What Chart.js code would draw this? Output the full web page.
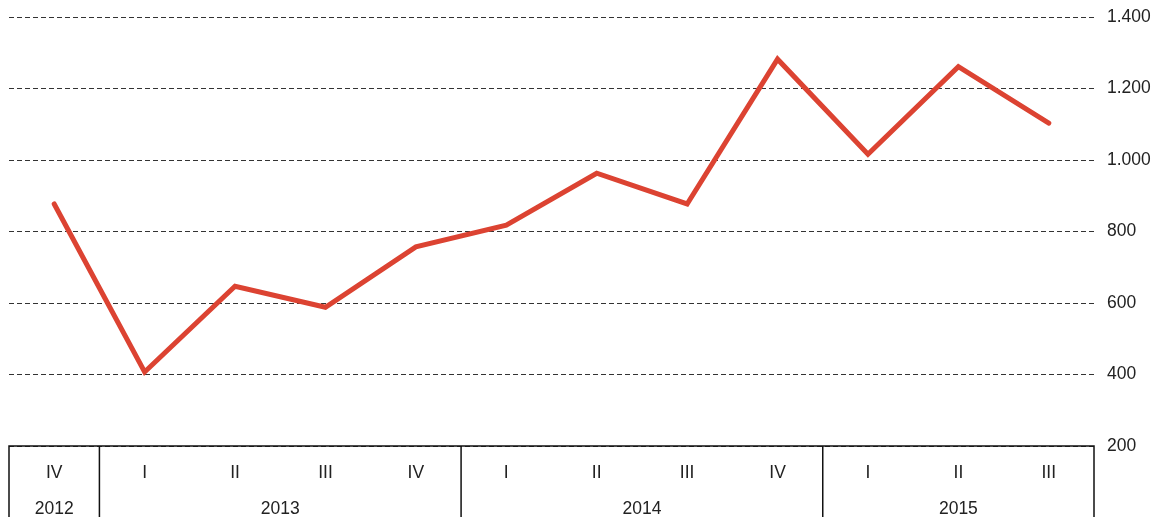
<!DOCTYPE html>
<html>
<head>
<meta charset="utf-8">
<script src="https://cdn.jsdelivr.net/npm/chart.js@4"></script>
<style>
  body { margin: 0; background: #fff; }
  #wrap { width: 1161px; height: 517px; }
</style>
</head>
<body>
<div id="wrap"><canvas id="chart"></canvas></div>
<script>
// trimestri e valori
const quarters = ['IV', 'I', 'II', 'III', 'IV', 'I', 'II', 'III', 'IV', 'I', 'II', 'III'];
const years = ['2012', '2013', '2014', '2015'];
const quartersPerYear = [1, 4, 4, 3];
const values = [877, 407, 647, 588, 757, 818, 963, 877, 1282, 1016, 1261, 1103];
const yTicks = [200, 400, 600, 800, 1000, 1200, 1400];

const fontFamily = '"Liberation Sans", Arial, sans-serif';
const fontSize = 17.5;

// formato con punto per le migliaia
function formatNum(v) {
    return String(v).replace(/\B(?=(\d{3})+(?!\d))/g, '.');
}

// disegna la tabella sotto il grafico (anni e separatori)
const yearTable = {
    id: 'yearTable',
    afterDraw(chart) {
        const ctx = chart.ctx;
        const x = chart.scales.x;
        const area = chart.chartArea;
        const bottom = chart.height;
        ctx.save();
        ctx.strokeStyle = '#111';
        ctx.lineWidth = 1.5;
        ctx.beginPath();
        ctx.moveTo(area.left, bottom);
        ctx.lineTo(area.left, area.bottom);
        ctx.lineTo(area.right, area.bottom);
        ctx.lineTo(area.right, bottom);
        let idx = 0;
        const centers = [];
        quartersPerYear.forEach((n, k) => {
            const first = x.getPixelForValue(idx);
            const last = x.getPixelForValue(idx + n - 1);
            centers.push((first + last) / 2);
            idx += n;
            if (k < quartersPerYear.length - 1) {
                const b = (x.getPixelForValue(idx - 1) + x.getPixelForValue(idx)) / 2;
                ctx.moveTo(b, area.bottom);
                ctx.lineTo(b, bottom);
            }
        });
        ctx.stroke();
        ctx.fillStyle = '#222';
        ctx.font = fontSize + 'px ' + fontFamily;
        ctx.textAlign = 'center';
        ctx.textBaseline = 'middle';
        years.forEach((y, k) => ctx.fillText(y, centers[k], 509));
        ctx.restore();
    }
};

new Chart(document.getElementById('chart'), {
    type: 'line',
    data: {
        labels: quarters,
        datasets: [{
            data: values,
            borderColor: '#dc4332',
            borderWidth: 5,
            borderCapStyle: 'round',
            pointRadius: 0,
            tension: 0
        }]
    },
    options: {
        responsive: true,
        maintainAspectRatio: false,
        animation: false,
        layout: { padding: { top: 17, left: 9, right: 0, bottom: 0 } },
        plugins: { legend: { display: false }, tooltip: { enabled: false } },
        scales: {
            x: {
                type: 'category',
                offset: true,
                grid: { display: false, drawTicks: false },
                border: { display: false },
                ticks: {
                    color: '#222',
                    font: { family: fontFamily, size: fontSize },
                    padding: 17,
                    maxRotation: 0,
                    autoSkip: false
                },
                afterFit(scale) { scale.height = 71; }
            },
            y: {
                position: 'right',
                min: 200,
                max: 1400,
                afterBuildTicks(scale) { scale.ticks = yTicks.map(v => ({ value: v })); },
                grid: { color: '#333', lineWidth: 1, drawTicks: false },
                border: { display: false, dash: [5, 3] },
                ticks: {
                    color: '#222',
                    font: { family: fontFamily, size: fontSize },
                    padding: 13,
                    callback: v => formatNum(v)
                },
                afterFit(scale) {
                    scale.width = 67;
                    scale.paddingTop = 0;
                    scale.paddingBottom = 0;
                }
            }
        }
    },
    plugins: [yearTable]
});
</script>
</body>
</html>
